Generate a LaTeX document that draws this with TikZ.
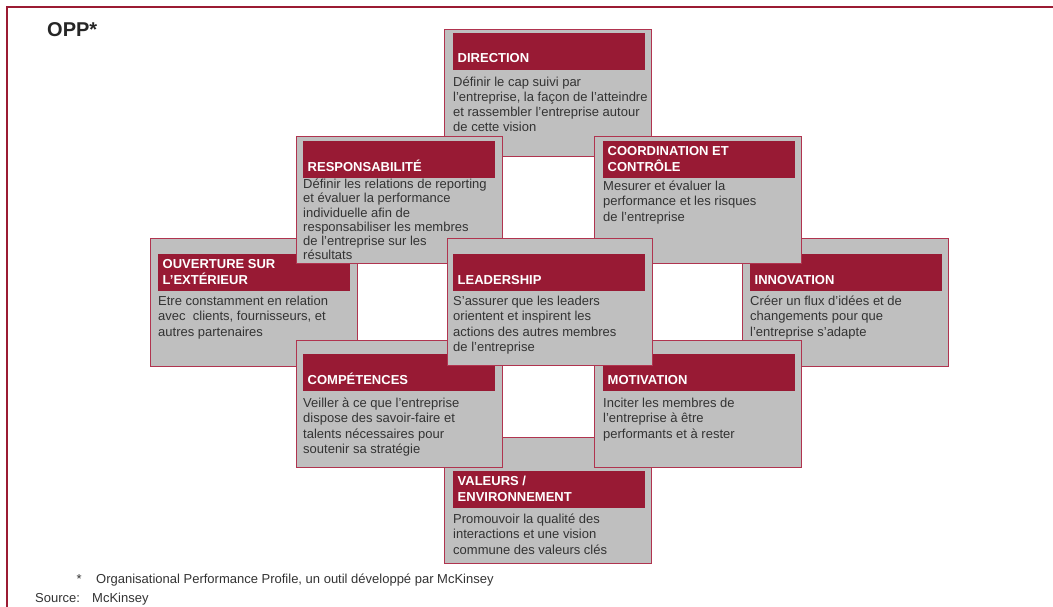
\documentclass[tikz,border=0pt]{standalone}
\usepackage{fontspec}
\setmainfont{Liberation Sans}
\definecolor{bandred}{HTML}{981A34}
\definecolor{boxgray}{HTML}{BFBFBF}
\definecolor{boxborder}{HTML}{B0344F}
\definecolor{framered}{HTML}{9B1B33}
\definecolor{bodytext}{HTML}{333333}
\tikzset{
  boxst/.style={draw=boxborder, line width=1.4pt, fill=boxgray, inner sep=0pt},
  bandst/.style={fill=bandred, inner sep=0pt, minimum width=192pt, minimum height=37pt},
  headst/.style={text=white, inner sep=0pt, align=left, font=\fontsize{13}{16}\selectfont\bfseries},
  bodyst/.style={text=bodytext, inner sep=0pt, align=left, font=\fontsize{13}{15.2}\selectfont},
  framest/.style={draw=framered, line width=2pt},
  notest/.style={text=bodytext, inner sep=0pt, font=\fontsize{13}{15}\selectfont},
}
% name, x, y, w, h, band dx, band dy, header
\newcommand\oppbox[8]{%
  \node[boxst, anchor=north west, minimum width=#4pt, minimum height=#5pt] (#1) at (#2,#3) {};
  \node[bandst, anchor=north west] (#1band) at ([xshift=#6pt, yshift=-#7pt]#1.north west) {};
  \node[headst, anchor=south west] (#1head) at ([xshift=4.5pt, yshift=7pt]#1band.south west) {#8};
}
% name, baseline gap below band, body
\newcommand\oppbody[3]{%
  \node[bodyst, anchor=north west] (#1body) at ([yshift=-#2pt+11pt]#1band.south west) {\rule{0pt}{11pt}#3};
}
\begin{document}
\begin{tikzpicture}[x=1pt,y=-1pt]
\useasboundingbox (0,0) rectangle (1053,606);
\coordinate (fbl) at (7,607);
\coordinate (ftl) at (7,7);
\coordinate (ftr) at (1054,7);
\draw[framest] (fbl) -- (ftl) -- (ftr);

\node[inner sep=0pt, anchor=base west, text=black!85, font=\fontsize{20}{22}\selectfont\bfseries] (title) at (47,36) {OPP*};

% bottom layer
\oppbox{dir}{444}{29}{207}{127}{9}{3.5}{DIRECTION}
\node[bodyst, font=\fontsize{13}{15}\selectfont, anchor=north west] (dirbody) at ([yshift=-16pt+11pt]dirband.south west) {\rule{0pt}{11pt}Définir le cap suivi par\\l’entreprise, la façon de l’atteindre\\et rassembler l’entreprise autour\\de cette vision};

\oppbox{ouv}{150}{238}{207}{128}{8}{16}{OUVERTURE SUR\\L’EXTÉRIEUR}
\oppbody{ouv}{14}{Etre constamment en relation\\avec\ \ clients, fournisseurs, et\\autres partenaires}

\oppbox{inn}{742}{238}{206}{128}{8}{16}{INNOVATION}
\oppbody{inn}{14}{Créer un flux d’idées et de\\changements pour que\\l’entreprise s’adapte}

\oppbox{val}{444}{437}{207}{126}{9}{34}{VALEURS /\\ENVIRONNEMENT}
\oppbody{val}{15}{Promouvoir la qualité des\\interactions et une vision\\commune des valeurs clés}

% middle layer
\oppbox{resp}{296}{136}{206}{127}{7}{5}{RESPONSABILITÉ}
\node[bodyst, font=\fontsize{13}{14.2}\selectfont, anchor=north west] (respbody) at ([yshift=-10pt+11pt]respband.south west) {\rule{0pt}{11pt}Définir les relations de reporting\\et évaluer la performance\\individuelle afin de\\responsabiliser les membres\\de l’entreprise sur les\\résultats};

\oppbox{coord}{594}{136}{207}{127}{9}{5}{COORDINATION ET\\CONTRÔLE}
\oppbody{coord}{12}{Mesurer et évaluer la\\performance et les risques\\de l’entreprise}

\oppbox{comp}{296}{340}{206}{127}{7}{14}{COMPÉTENCES}
\oppbody{comp}{16}{Veiller à ce que l’entreprise\\dispose des savoir-faire et\\talents nécessaires pour\\soutenir sa stratégie}

\oppbox{motiv}{594}{340}{207}{127}{9}{14}{MOTIVATION}
\oppbody{motiv}{16}{Inciter les membres de\\l’entreprise à être\\performants et à rester}

% top layer
\oppbox{lead}{447}{238}{205}{127}{6}{16}{LEADERSHIP}
\oppbody{lead}{14}{S’assurer que les leaders\\orientent et inspirent les\\actions des autres membres\\de l’entreprise}

% footnote
\node[notest, anchor=base east] (star) at (82,583) {*};
\node[notest, anchor=base west] (fn) at (96,583) {Organisational Performance Profile, un outil développé par McKinsey};
\node[notest, anchor=base west] (src) at (35,602) {Source:};
\node[notest, anchor=base west] (srcname) at (92,602) {McKinsey};
\end{tikzpicture}
\end{document}
